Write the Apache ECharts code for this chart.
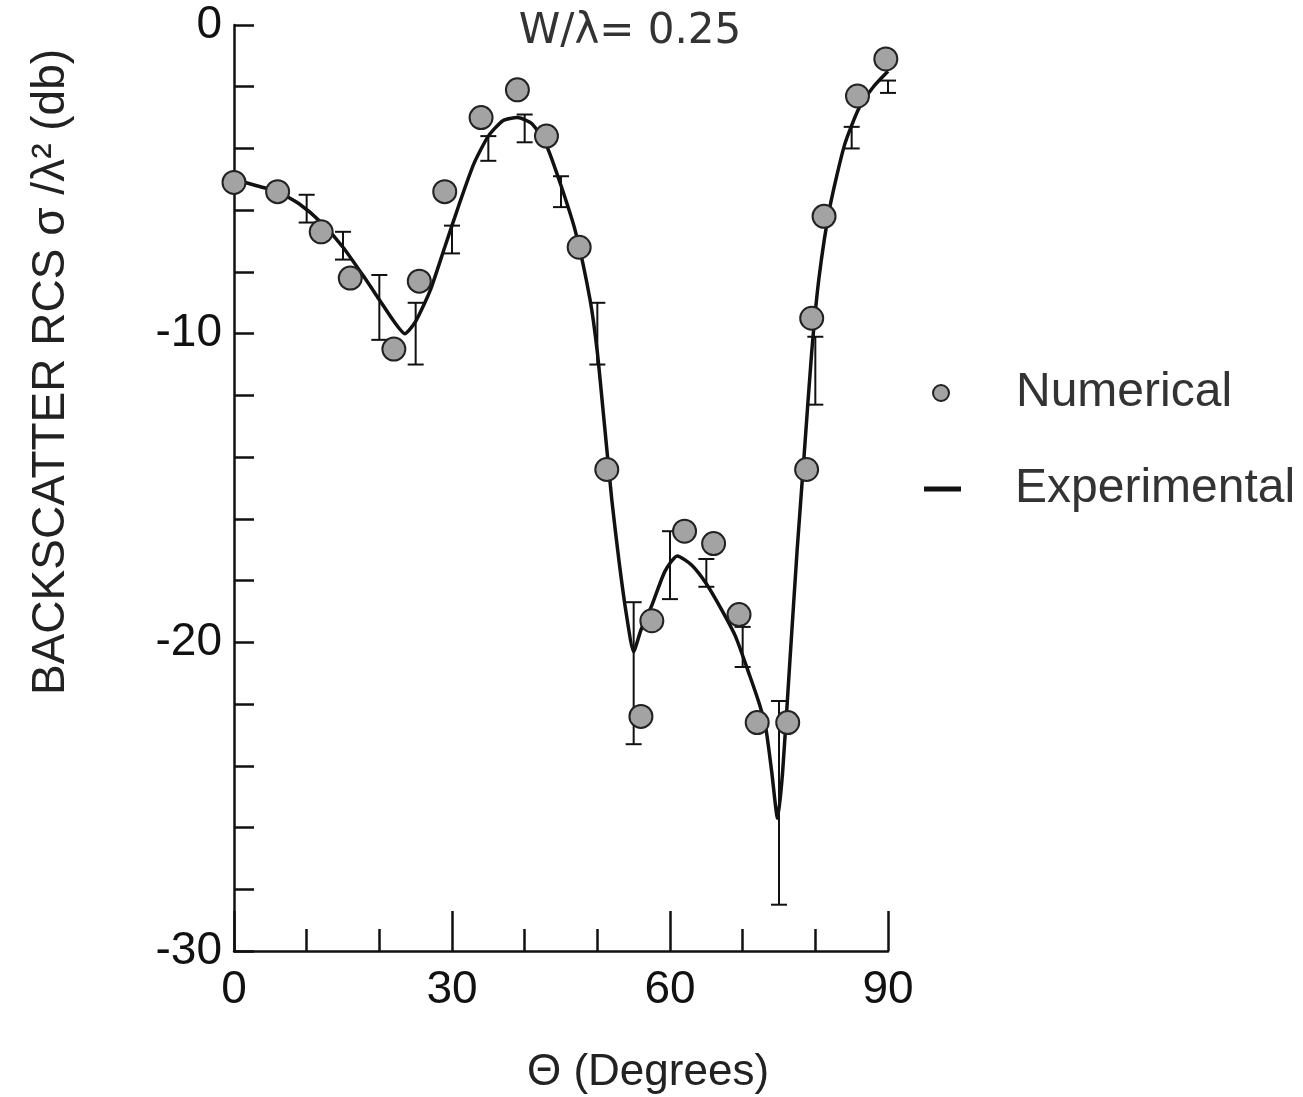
<!DOCTYPE html>
<html>
<head>
<meta charset="utf-8">
<script src="https://cdn.jsdelivr.net/npm/echarts@6/dist/echarts.min.js"></script>
<style>
  html, body { margin: 0; padding: 0; background: #fff; }
  #chart { width: 1303px; height: 1097px; }
</style>
</head>
<body>
<div id="chart"></div>
<script>
// experimental curve (solid line), theta in degrees, RCS in dB
const expTheta = [0, 3, 6, 9, 12, 15, 18, 20, 22, 23.5, 25, 27, 29, 31, 33, 35, 37, 39, 41, 43, 45, 47, 49, 50, 51, 52, 53, 54, 55,
  56, 57.5, 59.3, 61, 63, 65, 67, 69, 71, 72.3, 73.2, 74, 74.8, 75.5, 76.5, 77.5, 78.5, 79.5, 80.5, 82, 84, 86, 88, 90]
const expDb = [-5.0, -5.2, -5.4, -5.8, -6.4, -7.2, -8.2, -8.9, -9.6, -10.0, -9.6, -8.6, -7.2, -5.8, -4.5, -3.6, -3.1, -3.0, -3.2, -3.9, -5.2, -6.7, -8.9, -10.6, -13.0, -15.4, -17.4, -19.1, -20.3,
  -19.6, -18.8, -17.7, -17.2, -17.5, -18.1, -18.9, -19.8, -21.1, -22.0, -22.8, -24.2, -25.7, -24.2, -20.6, -17.0, -13.8, -10.6, -8.2, -5.9, -3.9, -2.7, -2.0, -1.5]

// numerical results (circles)
const numTheta = [0, 6, 12, 16, 22, 25.5, 29, 34, 39, 43, 47.5, 51.3, 56, 57.5, 62, 66, 69.5, 72, 76.2, 78.8, 79.5, 81.2, 85.8, 89.7]
const numDb = [-5.1, -5.4, -6.7, -8.2, -10.5, -8.3, -5.4, -3.0, -2.1, -3.6, -7.2, -14.4, -22.4, -19.3, -16.4, -16.8, -19.1, -22.6, -22.6, -14.4, -9.5, -6.2, -2.3, -1.1]

// error bars on the measurement
const barTheta = [10, 15, 20, 25, 30, 35, 40, 45, 50, 55, 60, 65, 70, 75, 80, 85, 90]
const barHigh = [-5.5, -6.7, -8.1, -9.0, -6.5, -3.6, -2.9, -4.9, -9.0, -18.7, -16.4, -17.3, -19.5, -21.9, -10.1, -3.3, -1.8]
const barLow = [-6.4, -7.6, -10.2, -11.0, -7.4, -4.4, -3.8, -5.9, -11.0, -23.3, -18.6, -18.2, -20.8, -28.5, -12.3, -4.0, -2.2]

const FONT = 'Liberation Sans'

const chart = echarts.init(document.getElementById('chart'))

function renderBar(params, api) {
  const top = api.coord([api.value(0), api.value(1)])
  const bot = api.coord([api.value(0), api.value(2)])
  const half = 8
  const style = { stroke: '#111', lineWidth: 2 }
  return {
    type: 'group',
    children: [
      { type: 'line', shape: { x1: top[0], y1: top[1], x2: bot[0], y2: bot[1] }, style },
      { type: 'line', shape: { x1: top[0] - half, y1: top[1], x2: top[0] + half, y2: top[1] }, style },
      { type: 'line', shape: { x1: bot[0] - half, y1: bot[1], x2: bot[0] + half, y2: bot[1] }, style }
    ]
  }
}

chart.setOption({
  backgroundColor: '#fff',
  animation: false,

  title: {
    text: 'W/λ= 0.25',
    left: 625,
    textAlign: 'center',
    top: 6,
    textStyle: { fontFamily: 'DejaVu Sans', fontSize: 42, fontWeight: 'normal', color: '#333' }
  },

  legend: [
    {
      data: ['Numerical'],
      left: 932,
      top: 369,
      padding: 0,
      itemWidth: 16,
      itemHeight: 16,
      icon: 'circle',
      textStyle: { fontFamily: FONT, fontSize: 48, color: '#333', padding: [0, 0, 0, 62] }
    },
    {
      data: ['Experimental'],
      left: 924,
      top: 465,
      padding: 0,
      itemWidth: 37,
      itemHeight: 5,
      icon: 'rect',
      textStyle: { fontFamily: FONT, fontSize: 48, color: '#333', padding: [0, 0, 0, 49] }
    }
  ],

  grid: {
    left: 234,
    right: 415,
    top: 25,
    bottom: 146,
    outerBoundsMode: 'none'
  },

  xAxis: {
    type: 'value',
    min: 0,
    max: 90,
    interval: 30,
    name: 'Θ (Degrees)',
    nameLocation: 'middle',
    nameGap: 100,
    nameTextStyle: { fontFamily: FONT, fontSize: 44, color: '#222', padding: [0, 0, 0, 174] },
    axisLine: { onZero: false, lineStyle: { color: '#111', width: 2.5 } },
    axisTick: { inside: true, length: 40, lineStyle: { color: '#111', width: 2.5 } },
    minorTick: { show: true, splitNumber: 3, length: 22, lineStyle: { color: '#111', width: 2.5 } },
    axisLabel: { fontFamily: FONT, fontSize: 46, color: '#111', margin: 16 },
    splitLine: { show: false }
  },

  yAxis: {
    type: 'value',
    min: -30,
    max: 0,
    interval: 2,
    name: 'BACKSCATTER RCS σ /λ² (db)',
    nameLocation: 'middle',
    nameGap: 160,
    nameTextStyle: { fontFamily: FONT, fontSize: 46, color: '#222', padding: [0, 0, 0, 232] },
    axisLine: { onZero: false, lineStyle: { color: '#111', width: 2.5 } },
    axisTick: { inside: true, length: 20, lineStyle: { color: '#111', width: 2.5 } },
    axisLabel: {
      fontFamily: FONT,
      fontSize: 46,
      color: '#111',
      margin: 12,
      formatter: v => (v % 10 === 0 ? String(v) : '')
    },
    splitLine: { show: false }
  },

  series: [
    {
      name: 'Experimental',
      type: 'line',
      data: expTheta.map((t, i) => [t, expDb[i]]),
      showSymbol: false,
      symbol: 'none',
      smooth: 0.2,
      lineStyle: { color: '#111', width: 3.5 },
      itemStyle: { color: '#111' },
      z: 2
    },
    {
      name: 'Bars',
      type: 'custom',
      renderItem: renderBar,
      data: barTheta.map((t, i) => [t, barHigh[i], barLow[i]]),
      z: 3
    },
    {
      name: 'Numerical',
      type: 'scatter',
      symbol: 'circle',
      symbolSize: 23,
      data: numTheta.map((t, i) => [t, numDb[i]]),
      itemStyle: { color: '#a3a3a3', borderColor: '#222', borderWidth: 2, opacity: 1 },
      z: 4
    }
  ]
})
</script>
</body>
</html>
